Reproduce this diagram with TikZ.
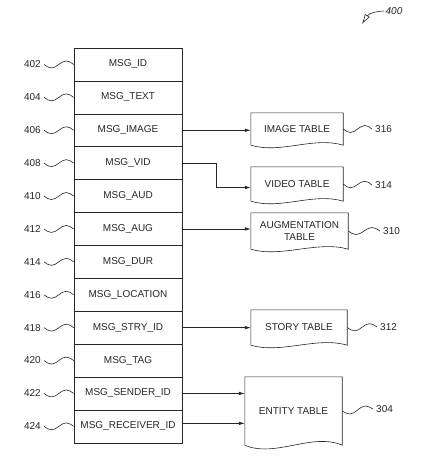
\documentclass[tikz,border=0pt]{standalone}
\usepackage{fontspec}
\setmainfont{Liberation Sans}
\usetikzlibrary{arrows.meta, calc, positioning}
\tikzset{>={Latex[length=6pt,width=3.5pt]}}
\tikzset{font=\fontsize{10}{11.5}\selectfont}
\tikzset{line/.style={draw=black!85, line width=0.6pt}}
\tikzset{field/.style={line, minimum width=108pt, minimum height=32.9pt, inner sep=0pt}}
\tikzset{tbl/.style={inner sep=0pt, align=center}}
\tikzset{refnum/.style={inner xsep=3pt, inner ysep=1pt}}
\tikzset{squig/.style={to path={
  sin ($(\tikztostart)!0.25!(\tikztotarget)+(0,3.5)$)
  cos ($(\tikztostart)!0.5!(\tikztotarget)$)
  sin ($(\tikztostart)!0.75!(\tikztotarget)+(0,-3.5)$)
  cos (\tikztotarget)}}}

\begin{document}
\begin{tikzpicture}[x=1pt, y=-1pt, text=black!85]
  \useasboundingbox (0,0) rectangle (429,469);
  % message table
  \foreach \txt [count=\i] in {MSG\_ID, MSG\_TEXT, MSG\_IMAGE, MSG\_VID,
      MSG\_AUD, MSG\_AUG, MSG\_DUR, MSG\_LOCATION, MSG\_STRY\_ID, MSG\_TAG,
      MSG\_SENDER\_ID, MSG\_RECEIVER\_ID} {
    \pgfmathtruncatemacro\num{400+2*\i}
    \node[field] (r\num) at (128, 31.55+32.9*\i) {\txt};
    \node[refnum, anchor=east] (n\num) at (44, 31.55+32.9*\i) {\num};
    \draw[line, squig] (n\num.east) to (r\num.west);
  }
  % tables
  \node[tbl, minimum width=92pt, minimum height=32pt] (t316) at (297,129) {IMAGE TABLE};
  \node[tbl, minimum width=92pt, minimum height=34pt] (t314) at (297,184) {VIDEO TABLE};
  \node[tbl, minimum width=97pt, minimum height=36pt] (t310) at (299.5,231) {AUGMENTATION\\TABLE};
  \node[tbl, minimum width=96pt, minimum height=35pt] (t312) at (299,327.5) {STORY TABLE};
  \node[tbl, minimum width=97pt, minimum height=68pt] (t304) at (293.5,411) {ENTITY TABLE};
  \foreach \t/\a in {t316/9, t314/9, t310/9, t312/9, t304/13}
    \draw[line] (\t.south west) -- (\t.north west) -- (\t.north east) -- (\t.south east)
      .. controls ($(\t.south east)+(-30,-\a)$) and ($(\t.south west)+(30,\a)$) .. (\t.south west);
  \node[refnum, anchor=west] (n316) at (372,129) {316};
  \node[refnum, anchor=west] (n314) at (372,185) {314};
  \node[refnum, anchor=west] (n310) at (380,231) {310};
  \node[refnum, anchor=west] (n312) at (377,327) {312};
  \node[refnum, anchor=west] (n304) at (373,409) {304};
  \foreach \x in {316, 314, 310, 312, 304}
    \draw[line, squig] (t\x.east) to (n\x.west);
  % links
  \draw[line, ->] (r406.east) -- (r406.east -| t316.west);
  \draw[line, ->] (r408.east) -- ++(34,0) |- ([yshift=-3.5pt]t314.west);
  \draw[line, ->] (r412.east) -- (r412.east -| t310.west);
  \draw[line, ->] (r418.east) -- (r418.east -| t312.west);
  \draw[line, ->] (r422.east) -- (r422.east -| t304.west);
  \draw[line, ->] ([yshift=3pt]r424.east) -- ([yshift=3pt]r424.east -| t304.west);
  % figure number
  \node[inner sep=1pt] (fig) at (394,11) {\itshape 400};
  \coordinate (figtip) at (362,24);
  \draw[line, -{Latex[open, length=10pt, width=6pt]}] (fig.west)
    .. controls (378,11) and (369,13) .. (figtip);
\end{tikzpicture}
\end{document}
